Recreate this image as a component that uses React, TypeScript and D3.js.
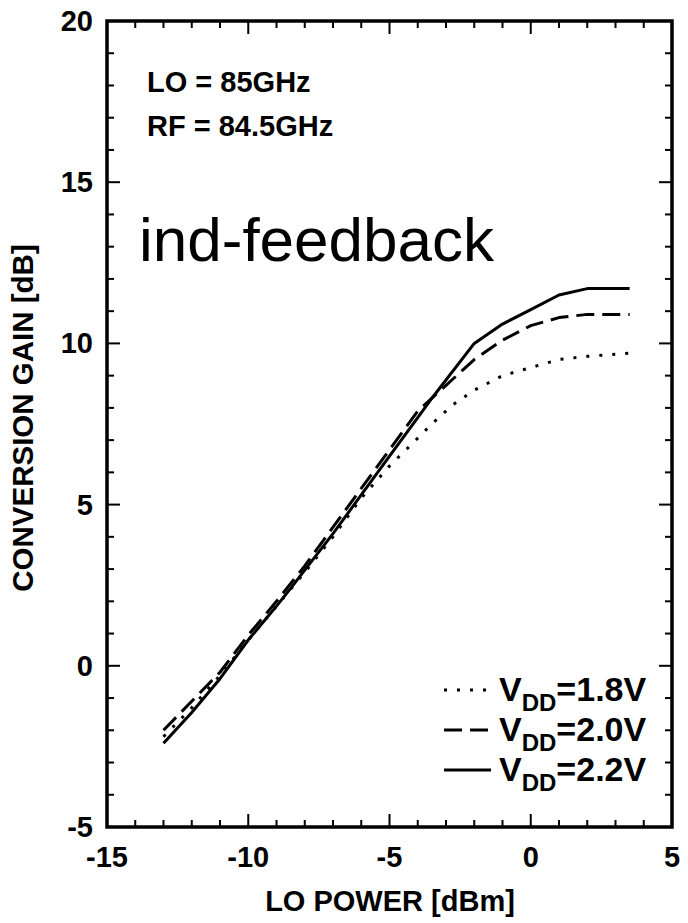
import React from "react";
import * as d3 from "d3";

const xTicks = [-15, -10, -5, 0, 5];
const yTicks = [-5, 0, 5, 10, 15, 20];
const xMinor = d3.range(-15, 5.01, 1);
const yMinor = d3.range(-5, 20.01, 1);

const vdd18: [number, number][] = [
  [-13, -2.2], [-12, -1.3], [-11, -0.3], [-10, 0.8], [-9, 1.85], [-8, 2.9], [-7, 4.0], [-6, 5.2],
  [-5, 6.2], [-4.3, 6.8], [-3.5, 7.5], [-2.75, 8.1], [-2, 8.55], [-1, 9.0], [0, 9.25], [1, 9.5],
  [2, 9.6], [3.5, 9.7],
];
const vdd20: [number, number][] = [
  [-13, -2.0], [-12, -1.1], [-11, -0.2], [-10, 0.95], [-9, 2.0], [-8, 3.1], [-7, 4.3], [-6, 5.5],
  [-5, 6.7], [-4, 7.9], [-3, 8.7], [-2, 9.5], [-1, 10.1], [0, 10.55], [1, 10.8], [2, 10.9], [3.5, 10.9],
];
const vdd22: [number, number][] = [
  [-13, -2.4], [-12, -1.45], [-11, -0.4], [-10, 0.8], [-9, 1.85], [-8.5, 2.4], [-7, 4.1], [-6, 5.3],
  [-5, 6.5], [-4, 7.7], [-3.5, 8.3], [-2, 10.0], [-1, 10.6], [0, 11.05], [1, 11.5], [2, 11.7], [3.5, 11.7],
];

const series = [
  { label: "1.8V", data: vdd18, dash: "3,10" },
  { label: "2.0V", data: vdd20, dash: "18,8" },
  { label: "2.2V", data: vdd22, dash: "none" },
];

export default function App() {
  const W = 688, H = 923;
  const L = 107, R = 672, T = 21, B = 827;
  const x = d3.scaleLinear().domain([-15, 5]).range([L, R]);
  const y = d3.scaleLinear().domain([-5, 20]).range([B, T]);
  const line = d3.line<[number, number]>().x(d => x(d[0])).y(d => y(d[1]));
  const font = "'Liberation Sans', Arial, sans-serif";
  const major = 13, minor = 7;
  return (
    <svg width={W} height={H} style={{ position: "absolute", left: 0, top: 0, background: "#fff" }} fontFamily={font}>
      <rect x={0} y={0} width={W} height={H} fill="#fff" />
      {xMinor.map((v, i) => (
        <g key={"xm" + i} stroke="#000" strokeWidth={2}>
          <line x1={x(v)} x2={x(v)} y1={B} y2={B - (xTicks.includes(v) ? major : minor)} />
          <line x1={x(v)} x2={x(v)} y1={T} y2={T + (xTicks.includes(v) ? major : minor)} />
        </g>
      ))}
      {yMinor.map((v, i) => (
        <g key={"ym" + i} stroke="#000" strokeWidth={2}>
          <line y1={y(v)} y2={y(v)} x1={L} x2={L + (yTicks.includes(v) ? major : minor)} />
          <line y1={y(v)} y2={y(v)} x1={R} x2={R - (yTicks.includes(v) ? major : minor)} />
        </g>
      ))}
      <rect x={L} y={T} width={R - L} height={B - T} fill="none" stroke="#000" strokeWidth={3.5} />
      {xTicks.map(v => (
        <text key={"xt" + v} x={x(v)} y={B + 40} textAnchor="middle" fontSize={29} fontWeight="bold">{v}</text>
      ))}
      {yTicks.map(v => (
        <text key={"yt" + v} x={L - 14} y={y(v) + 10} textAnchor="end" fontSize={29} fontWeight="bold">{v}</text>
      ))}
      <text x={390} y={911} textAnchor="middle" fontSize={29} fontWeight="bold">LO POWER [dBm]</text>
      <text transform={`translate(33, ${418}) rotate(-90)`} textAnchor="middle" fontSize={29.5} fontWeight="bold">CONVERSION GAIN [dB]</text>
      {series.map(s => (
        <path key={s.label} d={line(s.data) || ""} fill="none" stroke="#000" strokeWidth={3}
          strokeDasharray={s.dash} strokeLinejoin="round" />
      ))}
      <text x={147} y={92} fontSize={29} fontWeight="bold">LO = 85GHz</text>
      <text x={147} y={136} fontSize={29} fontWeight="bold">RF = 84.5GHz</text>
      <text x={139} y={261} fontSize={62}>ind-feedback</text>
      {series.map((s, i) => {
        const ly = 690 + i * 40;
        return (
          <g key={"lg" + s.label}>
            <line x1={444} x2={491} y1={ly} y2={ly} stroke="#000" strokeWidth={3} strokeDasharray={s.dash} />
            <text x={499} y={ly + 11} fontSize={34} fontWeight="bold">
              V<tspan fontSize={24} dy={10}>DD</tspan><tspan fontSize={34} dy={-10}>={s.label}</tspan>
            </text>
          </g>
        );
      })}
    </svg>
  );
}
